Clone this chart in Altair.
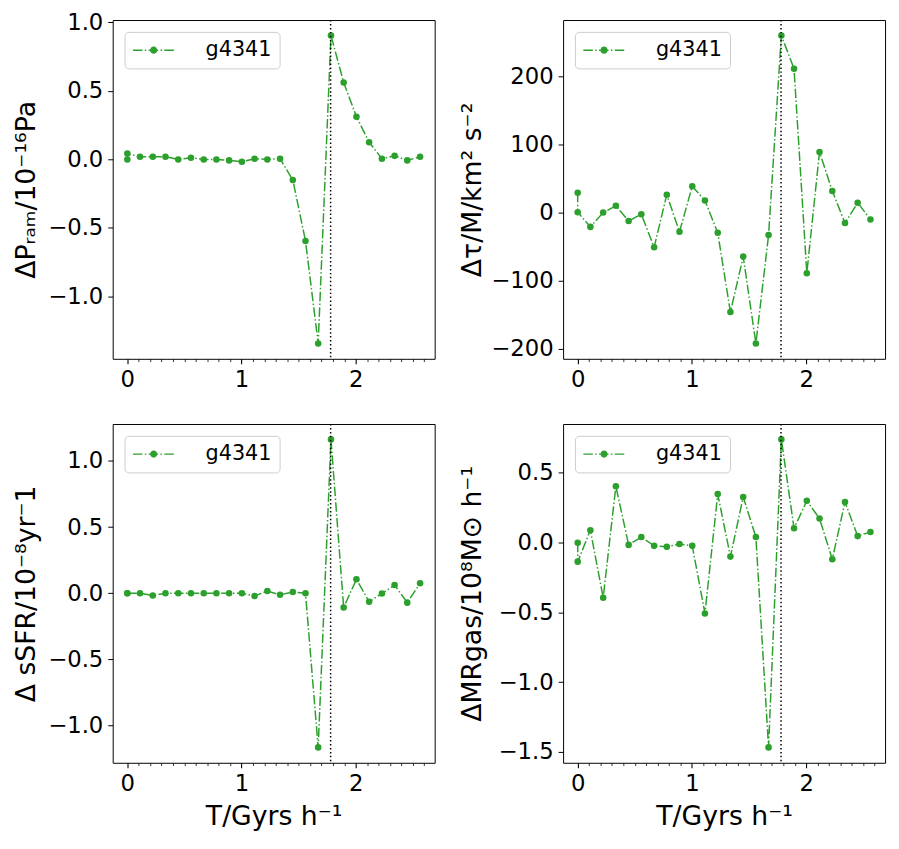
import altair as alt
import pandas as pd

# ---------------- data ----------------
SERIES = "g4341"
GREEN = "#2ca02c"
T_EVENT = 1.78

T = [0.0, 0.0, 0.111, 0.223, 0.334, 0.446, 0.557, 0.669, 0.780, 0.891, 1.003,
     1.114, 1.226, 1.337, 1.449, 1.560, 1.671, 1.783, 1.894, 2.006, 2.117,
     2.229, 2.340, 2.451, 2.563]

P_RAM = [0.0, 0.043, 0.019, 0.019, 0.019, 0.0, 0.012, 0.0, 0.0, -0.007, -0.017,
         0.005, 0.0, 0.005, -0.15, -0.595, -1.343, 0.905, 0.562, 0.312, 0.126,
         0.005, 0.026, -0.007, 0.019]

TORQUE = [29, 0.5, -21, 0, 10, -12.4, -2.4, -51, 26.3, -28.2, 38.8,
          17.7, -29.7, -146, -64.6, -192, -33, 260, 211, -89, 89,
          31.6, -15.3, 14.4, -10]

SSFR = [0.0, 0.0, 0.0, -0.017, 0.0, 0.0, 0.0, 0.0, 0.0, 0.0, 0.0,
        -0.02, 0.017, -0.012, 0.01, 0.0, -1.165, 1.163, -0.108, 0.106, -0.064,
        -0.002, 0.062, -0.071, 0.076]

M_RGAS = [0.0, -0.136, 0.089, -0.395, 0.404, -0.016, 0.04, -0.023, -0.03, -0.009, -0.023,
          -0.507, 0.348, -0.1, 0.327, 0.04, -1.467, 0.74, 0.103, 0.3, 0.173,
          -0.119, 0.292, 0.047, 0.077]

X_TICKS = [0.0, 0.1, 0.2, 0.3, 0.4, 0.5, 0.6, 0.7, 0.8, 0.9, 1.0, 1.1, 1.2, 1.3,
           1.4, 1.5, 1.6, 1.7, 1.8, 1.9, 2.0, 2.1, 2.2, 2.3, 2.4, 2.5, 2.6]
X_DOMAIN = [-0.128, 2.691]

Y_TICKS_PRAM = [-1.0, -0.5, 0.0, 0.5, 1.0]
Y_TICKS_TORQUE = [-200, -100, 0, 100, 200]
Y_TICKS_SSFR = [-1.0, -0.5, 0.0, 0.5, 1.0]
Y_TICKS_MGAS = [-1.5, -1.0, -0.5, 0.0, 0.5]

TITLE_PRAM = "ΔPᵣₐₘ/10⁻¹⁶Pa"
TITLE_TORQUE = "Δτ/M/km² s⁻²"
TITLE_SSFR = "Δ sSFR/10⁻⁸yr⁻1"
TITLE_MGAS = "ΔMRgas/10⁸M⊙ h⁻¹"
TITLE_X = "T/Gyrs h⁻¹"

W, H = 326, 343

MAJOR_TEST = "abs(datum.value - round(datum.value)) < 0.001"

# legend handle: dash-dot line with a circle marker in the middle
LEGEND_PATH = (
    "M-2.1,-0.075H-1.14V0.075H-2.1Z "
    "M-0.9,-0.075H-0.75V0.075H-0.9Z "
    "M-0.51,-0.075H0.45V0.075H-0.51Z "
    "M0.69,-0.075H0.84V0.075H0.69Z "
    "M1.08,-0.075H2.04V0.075H1.08Z "
    "M0.36,0A0.36,0.36,0,1,1,-0.36,0A0.36,0.36,0,1,1,0.36,0Z"
)


def margin_domain(vals):
    lo, hi = min(vals), max(vals)
    pad = 0.05 * (hi - lo)
    return [lo - pad, hi + pad]


def panel(values, ytitle, yticks, yfmt, title_x, xtitle):
    df = pd.DataFrame({"T": T, "v": values, "idx": list(range(len(T))),
                       "series": [SERIES] * len(T)})
    xaxis_kw = dict(
        values=X_TICKS,
        labelExpr=f"{MAJOR_TEST} ? format(datum.value, 'd') : ''",
        labelOverlap=False,
        tickSize={"condition": {"test": MAJOR_TEST, "value": 5}, "value": 2.8},
        tickWidth={"condition": {"test": MAJOR_TEST, "value": 1.1}, "value": 0.8},
        titlePadding=8,
    )
    if xtitle:
        xaxis_kw["title"] = xtitle
    else:
        xaxis_kw["title"] = None
    x = alt.X("T:Q", scale=alt.Scale(domain=X_DOMAIN, nice=False, zero=False),
              axis=alt.Axis(**xaxis_kw))
    y = alt.Y("v:Q", scale=alt.Scale(domain=margin_domain(values), nice=False, zero=False),
              axis=alt.Axis(values=yticks, format=yfmt, title=ytitle, titleX=title_x,
                            titleAngle=270, titleBaseline="alphabetic", titleAlign="center"))

    line = alt.Chart(df).mark_line(
        color=GREEN, strokeWidth=1.5, strokeDash=[9.6, 2.4, 1.5, 2.4]
    ).encode(x=x, y=y, order=alt.Order("idx:Q"))

    pts = alt.Chart(df).mark_point(filled=True, size=44, opacity=1).encode(
        x=x, y=y,
        color=alt.Color("series:N", scale=alt.Scale(domain=[SERIES], range=[GREEN]),
                        legend=alt.Legend(
                            title=None, orient="top-left", offset=12, padding=8,
                            strokeColor="#cccccc", fillColor="white", cornerRadius=4,
                            labelFontSize=21, labelFont="DejaVu Sans", labelColor="black",
                            symbolType=LEGEND_PATH, symbolSize=400, symbolStrokeWidth=0,
                            symbolOffset=11, labelOffset=42)),
    )

    rule = alt.Chart(pd.DataFrame({"T": [T_EVENT]})).mark_rule(
        color="black", strokeWidth=1.5, strokeDash=[1.5, 2.5]
    ).encode(x=x)

    return alt.layer(line, pts, rule).properties(width=W, height=H)


p1 = panel(P_RAM, TITLE_PRAM, Y_TICKS_PRAM, ".1f", -79, None)
p2 = panel(TORQUE, TITLE_TORQUE, Y_TICKS_TORQUE, "d", -84, None)
p3 = panel(SSFR, TITLE_SSFR, Y_TICKS_SSFR, ".1f", -79, TITLE_X)
p4 = panel(M_RGAS, TITLE_MGAS, Y_TICKS_MGAS, ".1f", -84, TITLE_X)

chart = alt.concat(
    p1, p2, p3, p4, columns=2, bounds="flush", spacing={"row": 66, "column": 130}
).resolve_scale(
    x="independent", y="independent", color="independent"
).resolve_legend(color="independent").properties(
    padding={"left": 4, "top": -3, "right": 5, "bottom": 5}
).configure_view(
    stroke="black", strokeWidth=1
).configure_axis(
    domain=False, grid=False,
    labelFont="DejaVu Sans", titleFont="DejaVu Sans",
    labelFontSize=23, titleFontSize=27, titleFontWeight="normal",
    labelColor="black", titleColor="black", tickColor="black",
    tickSize=5, labelPadding=5,
)

chart.save("out.html", embed_options={"renderer": "svg", "actions": False})
